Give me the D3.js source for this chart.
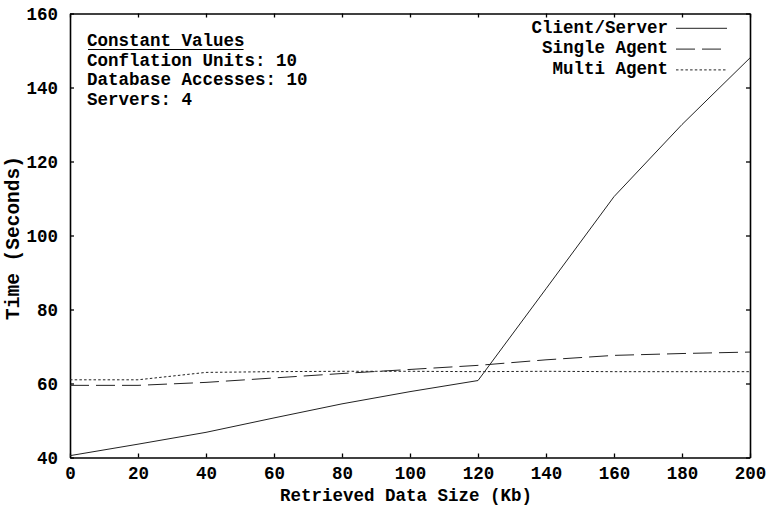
<!DOCTYPE html>
<html>
<head>
<meta charset="utf-8">
<script src="https://cdn.jsdelivr.net/npm/d3@7"></script>
<style>
  body { margin: 0; background: #fff; }
  svg { display: block; }
  text { font-family: "Liberation Mono", "Courier New", monospace; font-weight: bold; fill: #000; }
</style>
</head>
<body>
<svg id="chart" width="766" height="506"></svg>
<script>
// Retrieved data size (Kb)
const sizes = [0, 20, 40, 60, 80, 100, 120, 140, 160, 180, 200];
// Response time (seconds) per architecture
const clientServer = [40.5, 43.6, 46.8, 50.7, 54.5, 57.8, 60.8, 85.6, 110.5, 130.0, 148.0];
const singleAgent  = [59.5, 59.5, 60.3, 61.5, 62.7, 63.8, 64.9, 66.4, 67.6, 68.1, 68.5];
const multiAgent   = [61.0, 61.0, 63.0, 63.2, 63.3, 63.3, 63.2, 63.3, 63.2, 63.2, 63.2];

const seriesNames = ["Client/Server", "Single Agent", "Multi Agent"];
const xTicks = [0, 20, 40, 60, 80, 100, 120, 140, 160, 180, 200];
const yTicks = [40, 60, 80, 100, 120, 140, 160];
const constantLines = ["Conflation Units: 10", "Database Accesses: 10", "Servers: 4"];

const svg = d3.select("#chart");
const plotL = 70, plotR = 750, plotT = 13.5, plotB = 457.5;
const fs = 17.5;

const x = d3.scaleLinear().domain([0, 200]).range([plotL, plotR]);
const y = d3.scaleLinear().domain([40, 160]).range([plotB, plotT]);

const dashes = ["none", "19,7", "2.5,2.2"];
const series = [clientServer, singleAgent, multiAgent];

// Frame with inward-pointing ticks on all four sides
function styleAxis(g) {
  g.selectAll("path.domain").attr("stroke", "#000").attr("stroke-width", 1.6);
  g.selectAll(".tick line").attr("stroke", "#000").attr("stroke-width", 1.3);
  g.selectAll("text").attr("font-size", fs).attr("fill", "#000")
    .attr("font-family", "'Liberation Mono', 'Courier New', monospace").attr("font-weight", "bold");
}

svg.append("g").attr("transform", `translate(0,${plotB})`)
  .call(d3.axisBottom(x).tickValues(xTicks).tickSize(-4).tickSizeOuter(0).tickPadding(9))
  .call(styleAxis);
svg.append("g").attr("transform", `translate(0,${plotT})`)
  .call(d3.axisTop(x).tickValues(xTicks).tickSize(-4).tickSizeOuter(0).tickFormat(""))
  .call(styleAxis);
svg.append("g").attr("transform", `translate(${plotL},0)`)
  .call(d3.axisLeft(y).tickValues(yTicks).tickSize(-4).tickSizeOuter(0).tickPadding(12))
  .call(styleAxis);
svg.append("g").attr("transform", `translate(${plotR},0)`)
  .call(d3.axisRight(y).tickValues(yTicks).tickSize(-4).tickSizeOuter(0).tickFormat(""))
  .call(styleAxis);

// Data lines
const line = d3.line().x((d, i) => x(sizes[i])).y(d => y(d));
series.forEach((vals, k) => {
  svg.append("path")
    .datum(vals)
    .attr("d", line)
    .attr("fill", "none")
    .attr("stroke", "#222")
    .attr("stroke-width", 1)
    .attr("stroke-dasharray", dashes[k] === "none" ? null : dashes[k]);
});

// Legend (top right)
const legend = svg.append("g");
seriesNames.forEach((name, k) => {
  const base = 32.5 + k * 20.8;
  legend.append("text")
    .attr("x", 668).attr("y", base)
    .attr("text-anchor", "end")
    .attr("font-size", fs)
    .text(name);
  legend.append("line")
    .attr("x1", 676).attr("x2", 727)
    .attr("y1", base - 4.2).attr("y2", base - 4.2)
    .attr("stroke", "#222").attr("stroke-width", 1)
    .attr("stroke-dasharray", dashes[k] === "none" ? null : dashes[k]);
});

// Constant values box (top left)
const note = svg.append("g");
const title = note.append("text")
  .attr("x", 87).attr("y", 46)
  .attr("font-size", fs)
  .text("Constant Values");
const tb = title.node().getBBox();
note.append("line")
  .attr("x1", tb.x + 1).attr("x2", tb.x + tb.width - 1)
  .attr("y1", 49.5).attr("y2", 49.5)
  .attr("stroke", "#000").attr("stroke-width", 1.2);
constantLines.forEach((t, i) => {
  note.append("text")
    .attr("x", 87).attr("y", 65.5 + i * 19.6)
    .attr("font-size", fs)
    .text(t);
});

// Axis titles
svg.append("text")
  .attr("x", (plotL + plotR) / 2 - 4).attr("y", 501)
  .attr("text-anchor", "middle")
  .attr("font-size", fs)
  .text("Retrieved Data Size (Kb)");
svg.append("text")
  .attr("transform", `translate(19,238) rotate(-90)`)
  .attr("text-anchor", "middle")
  .attr("font-size", 19.5)
  .text("Time (Seconds)");
</script>
</body>
</html>
